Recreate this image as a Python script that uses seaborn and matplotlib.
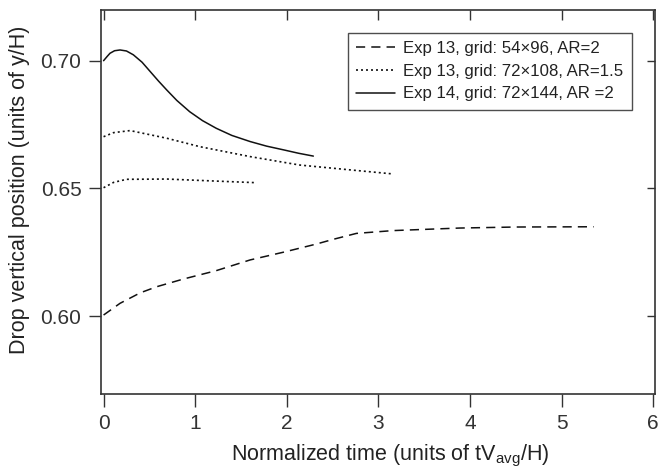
import matplotlib
matplotlib.use("Agg")
import matplotlib.pyplot as plt
import seaborn as sns

# Exp 13, grid 54x96, AR=2 (dashed)
t_a = [0.0, 0.18, 0.40, 0.58, 0.87, 1.23, 1.60, 1.96, 2.32, 2.51, 2.76, 3.16, 3.89, 4.5, 5.35]
y_a = [0.6004, 0.6050, 0.6091, 0.6115, 0.6145, 0.6178, 0.6220, 0.6250, 0.6282, 0.6301,
       0.6324, 0.6335, 0.6345, 0.6349, 0.6350]

# Exp 13, grid 72x108, AR=1.5 (dotted, upper branch)
t_b = [0.0, 0.11, 0.29, 0.69, 1.05, 1.60, 2.14, 2.69, 3.16]
y_b = [0.6703, 0.6719, 0.6727, 0.6697, 0.6664, 0.6625, 0.6592, 0.6573, 0.6557]

# Exp 13, grid 72x108, AR=1.5 (dotted, lower branch)
t_c = [0.0, 0.11, 0.25, 0.69, 1.23, 1.65]
y_c = [0.6503, 0.6524, 0.6536, 0.6537, 0.6529, 0.6523]

# Exp 14, grid 72x144, AR=2 (solid)
t_d = [0.0, 0.04, 0.07, 0.12, 0.18, 0.25, 0.325, 0.42, 0.51, 0.60, 0.69, 0.80, 0.94,
       1.08, 1.23, 1.40, 1.60, 1.78, 1.97, 2.13, 2.29]
y_d = [0.7001, 0.7018, 0.7030, 0.7040, 0.7043, 0.7039, 0.7024, 0.6995, 0.6958, 0.6921,
       0.6886, 0.6845, 0.6801, 0.6766, 0.6736, 0.6708, 0.6684, 0.6666, 0.6651, 0.6638,
       0.6627]

labels = ["Exp 13, grid: 54\u00d796, AR=2",
          "Exp 13, grid: 72\u00d7108, AR=1.5",
          "Exp 14, grid: 72\u00d7144, AR =2"]

x_ticks = [0, 1, 2, 3, 4, 5, 6]
y_ticks = [0.60, 0.65, 0.70]

sns.set_theme(style="white")
plt.rcParams["font.family"] = ["Liberation Sans", "DejaVu Sans"]
plt.rcParams["mathtext.fontset"] = "custom"
plt.rcParams["mathtext.rm"] = "Liberation Sans"
plt.rcParams["text.color"] = "#222222"
plt.rcParams["axes.labelcolor"] = "#222222"
plt.rcParams["xtick.color"] = "#333333"
plt.rcParams["ytick.color"] = "#333333"

fig, ax = plt.subplots(figsize=(6.59, 4.72), dpi=100)
fig.subplots_adjust(left=0.153, right=0.994, top=0.979, bottom=0.165)

col = "#111111"
lw = 1.1
sns.lineplot(x=t_a, y=y_a, ax=ax, color=col, lw=lw, linestyle=(0, (6, 4)), label=labels[0], sort=False)
sns.lineplot(x=t_b, y=y_b, ax=ax, color=col, lw=1.2, linestyle=(0, (1.2, 1.8)), label=labels[1], sort=False)
sns.lineplot(x=t_c, y=y_c, ax=ax, color=col, lw=1.2, linestyle=(0, (1.2, 1.8)), sort=False)
sns.lineplot(x=t_d, y=y_d, ax=ax, color=col, lw=lw, linestyle="-", label=labels[2], sort=False)
for ln in ax.lines:
    ln.set_solid_joinstyle("round")

ax.set_xlim(-0.03, 6.02)
ax.set_ylim(0.5694, 0.7200)
ax.set_xticks(x_ticks)
ax.set_xticklabels([str(v) for v in x_ticks])
ax.set_yticks(y_ticks)
ax.set_yticklabels([f"{v:.2f}" for v in y_ticks])

for s in ax.spines.values():
    s.set_color("#333333")
    s.set_linewidth(1.2)

ax.tick_params(axis="both", direction="out", length=9, width=1, labelsize=15, pad=5,
               bottom=True, left=True)

top = ax.secondary_xaxis("top")
top.set_xticks(x_ticks)
top.tick_params(direction="in", length=7, width=1, labeltop=False)
top.spines["top"].set_visible(False)
right = ax.secondary_yaxis("right")
right.set_yticks(y_ticks)
right.tick_params(direction="in", length=6, width=1, labelright=False)
right.spines["right"].set_visible(False)

ax.set_xlabel("Normalized time (units of tV$_{\\mathregular{avg}}$/H)", fontsize=15.5)
ax.set_ylabel("Drop vertical position (units of y/H)", fontsize=15.5)
ax.xaxis.set_label_coords(0.523, -0.128)
ax.yaxis.set_label_coords(-0.128, 0.531)

leg = ax.legend(loc="upper right", bbox_to_anchor=(0.958, 0.940), fontsize=12.1,
                frameon=True, fancybox=False, handlelength=2.3, handletextpad=0.5,
                labelspacing=0.45, borderpad=0.5, borderaxespad=0)
leg.get_frame().set_edgecolor("#222222")
leg.get_frame().set_linewidth(1.0)

fig.savefig("out.png", dpi=100)
